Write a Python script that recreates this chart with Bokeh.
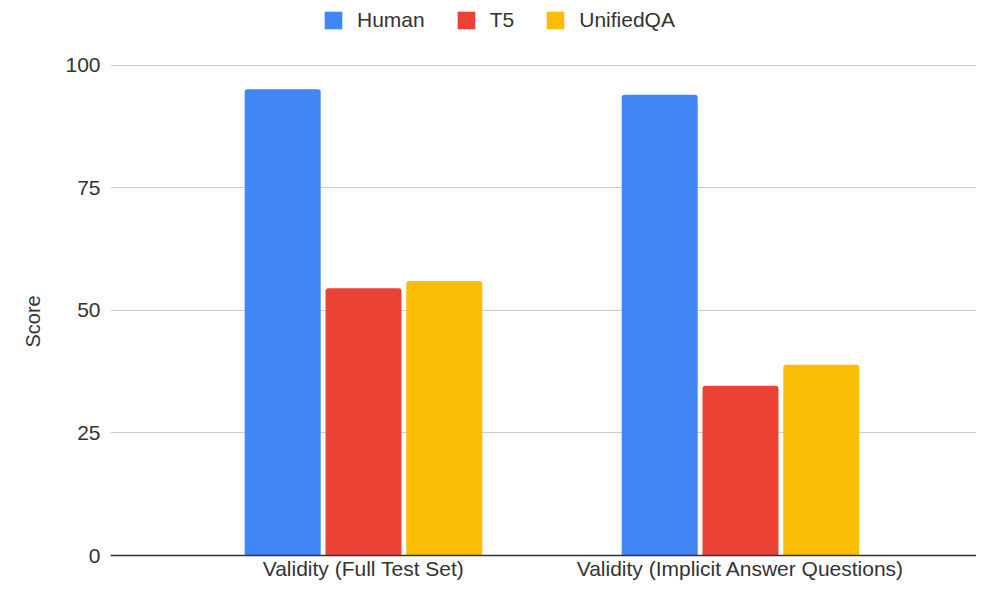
from bokeh.plotting import figure
from bokeh.models import Range1d, FixedTicker, Legend, LegendItem, ColumnDataSource, Title
from bokeh.transform import dodge
from bokeh.embed import file_html
from bokeh.resources import INLINE

categories = ["Validity (Full Test Set)", "Validity (Implicit Answer Questions)"]
series = ["Human", "T5", "UnifiedQA"]
human = [95.1, 94.0]
t5 = [54.5, 34.6]
unifiedqa = [56.0, 38.9]
y_ticks = [0, 25, 50, 75, 100]
colors = ["#4285F4", "#EA4335", "#FBBC04"]

FONT = "Liberation Sans"
TXT = "#333333"
FS = "21px"

idx = list(range(len(categories)))
src = ColumnDataSource(dict(x=idx, Human=human, T5=t5, UnifiedQA=unifiedqa))

p = figure(width=976, height=582, output_backend="svg", toolbar_location=None,
           x_range=Range1d(-0.671, 1.626), y_range=Range1d(0, 113.2),
           min_border_left=110, min_border_right=0, min_border_top=0,
           min_border_bottom=25)
p.outline_line_color = None
p.background_fill_color = "white"
p.border_fill_color = "white"

offsets = [-0.2143, 0.0, 0.2143]
items = []
for s, c, off in zip(series, colors, offsets):
    r = p.vbar(x=dodge("x", off), top=s, width=0.2016, source=src,
               fill_color=c, line_color=None, border_radius=(3, 3, 0, 0))
    items.append(LegendItem(label=s, renderers=[r]))

legend = Legend(items=items, orientation="horizontal", location=(212, 523),
                glyph_width=22, glyph_height=22, label_standoff=13, spacing=30,
                padding=0, margin=0, border_line_color=None,
                background_fill_alpha=0,
                label_text_font=FONT, label_text_font_size=FS,
                label_text_color=TXT, label_height=22)
p.add_layout(legend, "center")

# y axis
p.yaxis.ticker = FixedTicker(ticks=y_ticks)
p.yaxis.axis_line_color = None
p.yaxis.major_tick_line_color = None
p.yaxis.minor_tick_line_color = None
p.yaxis.major_tick_out = 0
p.yaxis.major_label_standoff = 10
p.yaxis.major_label_text_font = FONT
p.yaxis.major_label_text_font_size = FS
p.yaxis.major_label_text_color = TXT

# y axis title
p.add_layout(Title(text="Score", align="left", offset=208, vertical_align="bottom",
                   standoff=37, text_font=FONT, text_font_size="20px",
                   text_font_style="normal", text_color=TXT), "left")

# x axis
p.xaxis.ticker = FixedTicker(ticks=idx)
p.xaxis.major_label_overrides = {i: c for i, c in zip(idx, categories)}
p.xaxis.axis_line_color = "#333333"
p.xaxis.axis_line_width = 1.5
p.xaxis.major_tick_line_color = None
p.xaxis.minor_tick_line_color = None
p.xaxis.major_tick_out = 0
p.xaxis.major_label_standoff = 1
p.xaxis.major_label_text_font = FONT
p.xaxis.major_label_text_font_size = FS
p.xaxis.major_label_text_color = TXT

p.xgrid.grid_line_color = None
p.ygrid.grid_line_color = "#cccccc"
p.ygrid.grid_line_width = 1

open("out.html", "w").write(file_html(p, INLINE))
